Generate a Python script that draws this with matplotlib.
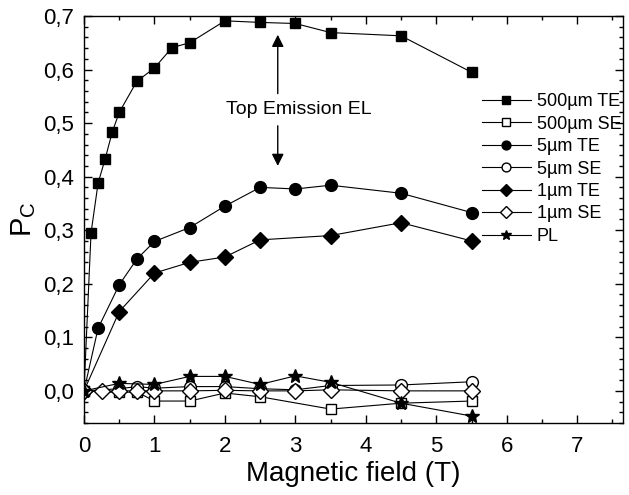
import numpy as np
import matplotlib
matplotlib.use("Agg")
import matplotlib.pyplot as plt
from matplotlib.ticker import MultipleLocator, FuncFormatter

plt.rcParams['font.family'] = ['Liberation Sans', 'DejaVu Sans']
plt.rcParams['mathtext.default'] = 'regular'

# data (B in T, Pc)
x_500te = [0, 0.1, 0.2, 0.3, 0.4, 0.5, 0.75, 1.0, 1.25, 1.5, 2.0, 2.5, 3.0, 3.5, 4.5, 5.5]
y_500te = [0, 0.295, 0.388, 0.433, 0.483, 0.52, 0.578, 0.603, 0.641, 0.65, 0.691, 0.688, 0.686, 0.669, 0.663, 0.595]

x_500se = [0, 0.5, 0.75, 1.0, 1.5, 2.0, 2.5, 3.5, 4.5, 5.5]
y_500se = [0, -0.003, -0.002, -0.019, -0.019, -0.004, -0.011, -0.034, -0.023, -0.019]

x_5te = [0, 0.2, 0.5, 0.75, 1.0, 1.5, 2.0, 2.5, 3.0, 3.5, 4.5, 5.5]
y_5te = [0, 0.117, 0.198, 0.246, 0.279, 0.305, 0.345, 0.38, 0.377, 0.384, 0.369, 0.333]

x_5se = [0, 0.5, 0.75, 1.0, 1.5, 2.0, 2.5, 3.0, 3.5, 4.5, 5.5]
y_5se = [0, 0.004, 0.008, 0.005, 0.008, 0.008, 0.004, 0.002, 0.01, 0.011, 0.017]

x_1te = [0, 0.5, 1.0, 1.5, 2.0, 2.5, 3.5, 4.5, 5.5]
y_1te = [0, 0.148, 0.22, 0.24, 0.25, 0.282, 0.29, 0.314, 0.28]

x_1se = [0, 0.25, 0.5, 0.75, 1.0, 1.5, 2.0, 2.5, 3.0, 3.5, 4.5, 5.5]
y_1se = [0, -0.001, 0.0, 0.0, 0.0, 0.0, 0.001, 0.0, 0.0, 0.002, 0.0, 0.0]

x_pl = [0, 0.5, 1.0, 1.5, 2.0, 2.5, 3.0, 3.5, 4.5, 5.5]
y_pl = [0, 0.014, 0.012, 0.027, 0.027, 0.012, 0.028, 0.016, -0.023, -0.047]

fig = plt.figure(figsize=(6.29, 4.95), dpi=100)
ax = fig.add_axes([84 / 629, 1 - 423 / 495, (623 - 84) / 629, (423 - 16) / 495])

lk = dict(color='k', lw=0.8)
ax.plot(x_500te, y_500te, marker='s', ms=7.5, mfc='k', mec='k', label='500µm TE', **lk)
ax.plot(x_500se, y_500se, marker='s', ms=7.5, mfc='white', mec='k', label='500µm SE', **lk)
ax.plot(x_5te, y_5te, marker='o', ms=8.5, mfc='k', mec='k', label='5µm TE', **lk)
ax.plot(x_5se, y_5se, marker='o', ms=8.5, mfc='white', mec='k', label='5µm SE', **lk)
ax.plot(x_1te, y_1te, marker='D', ms=8.5, mfc='k', mec='k', label='1µm TE', **lk)
ax.plot(x_1se, y_1se, marker='D', ms=8.5, mfc='white', mec='k', label='1µm SE', **lk)
ax.plot(x_pl, y_pl, marker='*', ms=10, mfc='k', mec='k', label='PL', **lk)

ax.set_xlim(0, 7.65)
ax.set_ylim(-0.06, 0.7)
ax.xaxis.set_major_locator(MultipleLocator(1))
ax.xaxis.set_minor_locator(MultipleLocator(0.5))
ax.yaxis.set_major_locator(MultipleLocator(0.1))
ax.yaxis.set_minor_locator(MultipleLocator(0.02))
ax.yaxis.set_major_formatter(FuncFormatter(lambda v, p: f"{v:.1f}".replace('.', ',')))
ax.tick_params(which='both', direction='in', top=True, right=True, labelsize=16, width=1)
ax.tick_params(which='major', length=6)
ax.tick_params(which='minor', length=3)
ax.tick_params(axis='x', pad=9)
ax.tick_params(axis='y', pad=7)
for s in ax.spines.values():
    s.set_linewidth(1.0)

ax.set_xlabel('Magnetic field (T)', fontsize=20, labelpad=3)
ax.set_ylabel('P$_C$', fontsize=21, labelpad=4)

ax.text(2.02, 0.525, 'Top Emission EL', fontsize=14, ha='left', va='center')
ap = dict(arrowstyle='-|>', color='k', lw=1, mutation_scale=18, shrinkA=0, shrinkB=0)
ax.annotate('', xy=(2.75, 0.665), xytext=(2.75, 0.555), arrowprops=ap)
ax.annotate('', xy=(2.75, 0.42), xytext=(2.75, 0.495), arrowprops=ap)

ax.legend(loc='upper left', bbox_to_anchor=(0.738, 0.81), frameon=False, fontsize=13,
          handlelength=2.7, handletextpad=0.35, labelspacing=0.3, borderpad=0,
          borderaxespad=0, markerscale=0.75)

fig.savefig('out.png', dpi=100)
